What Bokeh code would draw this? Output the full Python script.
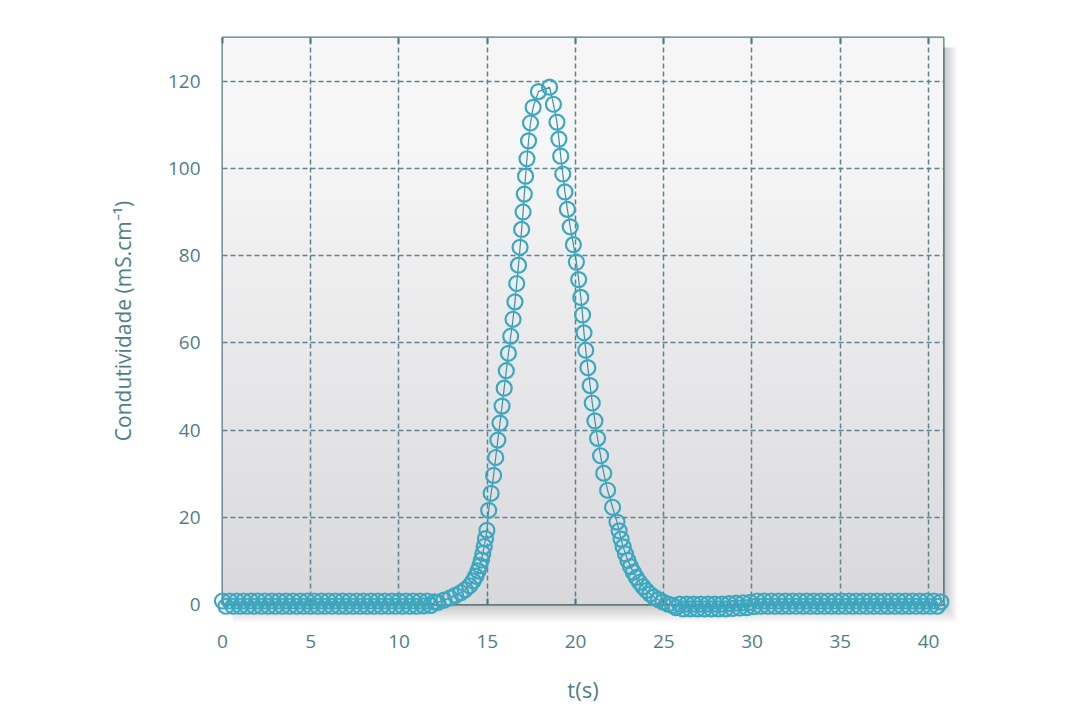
import numpy as np
from bokeh.plotting import figure
from bokeh.models import Range1d, LinearAxis, FixedTicker
from bokeh.embed import file_html
from bokeh.resources import INLINE

# ---------------- data ----------------
x_ticks = [0, 5, 10, 15, 20, 25, 30, 35, 40]
y_ticks = [0, 20, 40, 60, 80, 100, 120]

t_base_left = [0.0, 0.2, 0.4, 0.6, 0.8, 1.0, 1.2, 1.4, 1.6, 1.8,
               2.0, 2.2, 2.4, 2.6, 2.8, 3.0, 3.2, 3.4, 3.6, 3.8,
               4.0, 4.2, 4.4, 4.6, 4.8, 5.0, 5.2, 5.4, 5.6, 5.8,
               6.0, 6.2, 6.4, 6.6, 6.8, 7.0, 7.2, 7.4, 7.6, 7.8,
               8.0, 8.2, 8.4, 8.6, 8.8, 9.0, 9.2, 9.4, 9.6, 9.8,
               10.0, 10.2, 10.4, 10.6, 10.8, 11.0, 11.2, 11.4, 11.6, 11.8, 12.0]
c_base_left = [0.8, -0.4, 0.8, -0.4, 0.8, -0.4, 0.8, -0.4, 0.8, -0.4,
               0.8, -0.4, 0.8, -0.4, 0.8, -0.4, 0.8, -0.4, 0.8, -0.4,
               0.8, -0.4, 0.8, -0.4, 0.8, -0.4, 0.8, -0.4, 0.8, -0.4,
               0.8, -0.4, 0.8, -0.4, 0.8, -0.4, 0.8, -0.4, 0.8, -0.4,
               0.8, -0.4, 0.8, -0.4, 0.8, -0.4, 0.8, -0.4, 0.8, -0.4,
               0.8, -0.4, 0.8, -0.4, 0.8, -0.4, 0.8, -0.3, 0.8, -0.2, 0.6]

t_rise = [12.2, 12.55, 12.9, 13.2, 13.5, 13.75, 14.0, 14.2, 14.35, 14.48,
          14.58, 14.67, 14.75, 14.83, 14.9, 14.98, 15.08, 15.22, 15.36, 15.48,
          15.6, 15.72, 15.84, 15.96, 16.08, 16.2, 16.33, 16.46, 16.57, 16.67,
          16.77, 16.86, 16.95, 17.03, 17.1, 17.17, 17.25, 17.34, 17.45, 17.6,
          17.9]
c_rise = [0.5, 1.0, 1.5, 2.1, 2.7, 3.4, 4.3, 5.4, 6.5, 7.7,
          8.9, 10.2, 11.7, 13.3, 15.1, 17.0, 21.6, 25.5, 29.6, 33.7,
          37.7, 41.6, 45.5, 49.6, 53.6, 57.6, 61.5, 65.4, 69.4, 73.6,
          77.8, 81.9, 86.0, 90.0, 94.1, 98.2, 102.2, 106.3, 110.4, 114.0,
          117.6]

t_fall = [18.53, 18.75, 18.95, 19.06, 19.16, 19.28, 19.4, 19.54, 19.7, 19.88,
          20.05, 20.18, 20.3, 20.4, 20.48, 20.58, 20.7, 20.83, 20.95, 21.1,
          21.25, 21.42, 21.6, 21.82, 22.1, 22.35, 22.47, 22.58, 22.7, 22.83,
          22.97, 23.12, 23.28, 23.45, 23.63, 23.82, 24.02, 24.22, 24.45, 24.7,
          24.95, 25.25]
c_fall = [118.6, 114.7, 110.6, 106.7, 102.8, 98.7, 94.6, 90.6, 86.6, 82.5,
          78.5, 74.5, 70.4, 66.4, 62.3, 58.3, 54.3, 50.2, 46.2, 42.1,
          38.1, 34.1, 30.1, 26.2, 22.3, 18.9, 16.9, 15.0, 13.2, 11.6,
          10.1, 8.7, 7.4, 6.2, 5.1, 4.1, 3.2, 2.4, 1.7, 1.1,
          0.6, 0.1]

t_base_right = [25.5, 25.7, 25.9, 26.1, 26.3, 26.5, 26.7, 26.9, 27.1, 27.3,
                27.5, 27.7, 27.9, 28.1, 28.3, 28.5, 28.7, 28.9, 29.1, 29.3,
                29.5, 29.7, 29.9, 30.1, 30.3, 30.5, 30.7, 30.9, 31.1, 31.3,
                31.5, 31.7, 31.9, 32.1, 32.3, 32.5, 32.7, 32.9, 33.1, 33.3,
                33.5, 33.7, 33.9, 34.1, 34.3, 34.5, 34.7, 34.9, 35.1, 35.3,
                35.5, 35.7, 35.9, 36.1, 36.3, 36.5, 36.7, 36.9, 37.1, 37.3,
                37.5, 37.7, 37.9, 38.1, 38.3, 38.5, 38.7, 38.9, 39.1, 39.3,
                39.5, 39.7, 39.9, 40.1, 40.3, 40.5, 40.7]
c_base_right = [-0.2, -0.7, 0.1, -1.0, 0.1, -1.0, 0.1, -1.0, 0.1, -1.0,
                0.1, -1.0, 0.1, -1.0, 0.1, -1.0, 0.2, -0.9, 0.3, -0.8,
                0.4, -0.7, 0.5, -0.5, 0.8, -0.4, 0.8, -0.4, 0.8, -0.4,
                0.8, -0.4, 0.8, -0.4, 0.8, -0.4, 0.8, -0.4, 0.8, -0.4,
                0.8, -0.4, 0.8, -0.4, 0.8, -0.4, 0.8, -0.4, 0.8, -0.4,
                0.8, -0.4, 0.8, -0.4, 0.8, -0.4, 0.8, -0.4, 0.8, -0.4,
                0.8, -0.4, 0.8, -0.4, 0.8, -0.4, 0.8, -0.4, 0.8, -0.4,
                0.8, -0.4, 0.8, -0.4, 0.8, -0.4, 0.6]

t = t_base_left + t_rise + t_fall + t_base_right
cond = c_base_left + c_rise + c_fall + c_base_right

# ---------------- styling ----------------
TXT = "#4f7e89"
FRAME = "#4b7b86"
GRID = "#58858f"
MARK = "#3ca7c0"
FONT = "Open Sans"

X_MAX = 40.85
Y_MAX = 130
FRAME_W, FRAME_H = 721, 567
DX = X_MAX / FRAME_W   # data units per pixel
DY = Y_MAX / FRAME_H

p = figure(width=1072, height=718, output_backend="svg", toolbar_location=None,
           x_range=Range1d(0, X_MAX), y_range=Range1d(0, Y_MAX),
           min_border_left=222, min_border_right=129,
           min_border_top=37, min_border_bottom=114,
           background_fill_color="#f1f1f2", border_fill_color="white")

# vertical gradient background of the frame
n = 256
frac = np.linspace(0.0, 1.0, n)  # 0 bottom -> 1 top
top = np.array([246, 246, 247], dtype=float)
bot = np.array([217, 217, 220], dtype=float)
w = np.clip(frac * 1.25, 0, 1)[:, None]
rgb = (bot + (top - bot) * w).astype(np.uint32)
img = np.empty((n, 1), dtype=np.uint32)
view = img.view(dtype=np.uint8).reshape((n, 1, 4))
view[:, 0, 0] = rgb[:, 0]
view[:, 0, 1] = rgb[:, 1]
view[:, 0, 2] = rgb[:, 2]
view[:, 0, 3] = 255
p.image_rgba(image=[img], x=0, y=0, dw=X_MAX, dh=Y_MAX, level="image")

# soft drop shadow (right and bottom), outside the frame
for k in range(1, 15):
    p.quad(left=[X_MAX], right=[X_MAX + k * DX * 1.0],
           bottom=[-k * DY * 1.3], top=[Y_MAX - 10 * DY],
           fill_color="#000000", fill_alpha=0.016, line_color=None, level="annotation")
    p.quad(left=[10 * DX], right=[X_MAX],
           bottom=[-k * DY * 1.3], top=[0],
           fill_color="#000000", fill_alpha=0.016, line_color=None, level="annotation")

p.outline_line_color = FRAME
p.outline_line_width = 2

p.xgrid.ticker = FixedTicker(ticks=x_ticks)
p.ygrid.ticker = FixedTicker(ticks=y_ticks)
for g in (p.xgrid, p.ygrid):
    g.grid_line_color = GRID
    g.grid_line_dash = "5 3"
    g.grid_line_width = 1.5

xa = p.xaxis[0]
xa.ticker = FixedTicker(ticks=x_ticks)
xa.axis_line_color = None
xa.major_tick_in = 6
xa.major_tick_out = 0
xa.major_tick_line_color = FRAME
xa.major_tick_line_width = 2
xa.minor_tick_line_color = None
xa.major_label_standoff = 30
xa.major_label_text_font = FONT
xa.major_label_text_font_size = "19px"
xa.major_label_text_color = TXT
xa.axis_label = "t(s)"
xa.axis_label_text_font = FONT
xa.axis_label_text_font_size = "22px"
xa.axis_label_text_font_style = "normal"
xa.axis_label_text_color = TXT
xa.axis_label_standoff = 23

ya = p.yaxis[0]
ya.ticker = FixedTicker(ticks=y_ticks)
ya.axis_line_color = None
ya.major_tick_line_color = None
ya.minor_tick_line_color = None
ya.major_tick_in = 0
ya.major_tick_out = 0
ya.major_label_standoff = 22
ya.major_label_text_font = FONT
ya.major_label_text_font_size = "19px"
ya.major_label_text_color = TXT
ya.axis_label = "Condutividade (mS.cm\u207b\u00b9)"
ya.axis_label_text_font = FONT
ya.axis_label_text_font_size = "21px"
ya.axis_label_text_font_style = "normal"
ya.axis_label_text_color = TXT
ya.axis_label_standoff = 28

top_axis = LinearAxis(ticker=FixedTicker(ticks=x_ticks), axis_line_color=None,
                      major_tick_in=6, major_tick_out=0,
                      major_tick_line_color=FRAME, major_tick_line_width=2,
                      minor_tick_line_color=None,
                      major_label_text_color=None, major_label_text_font_size="1px")
p.add_layout(top_axis, "above")

p.line(t, cond, line_color="#3893a9", line_width=1.2, level="overlay")
p.scatter(t, cond, marker="circle", size=15, fill_color=None,
          line_color=MARK, line_width=2.2, level="overlay")

open("out.html", "w").write(file_html(p, INLINE))
